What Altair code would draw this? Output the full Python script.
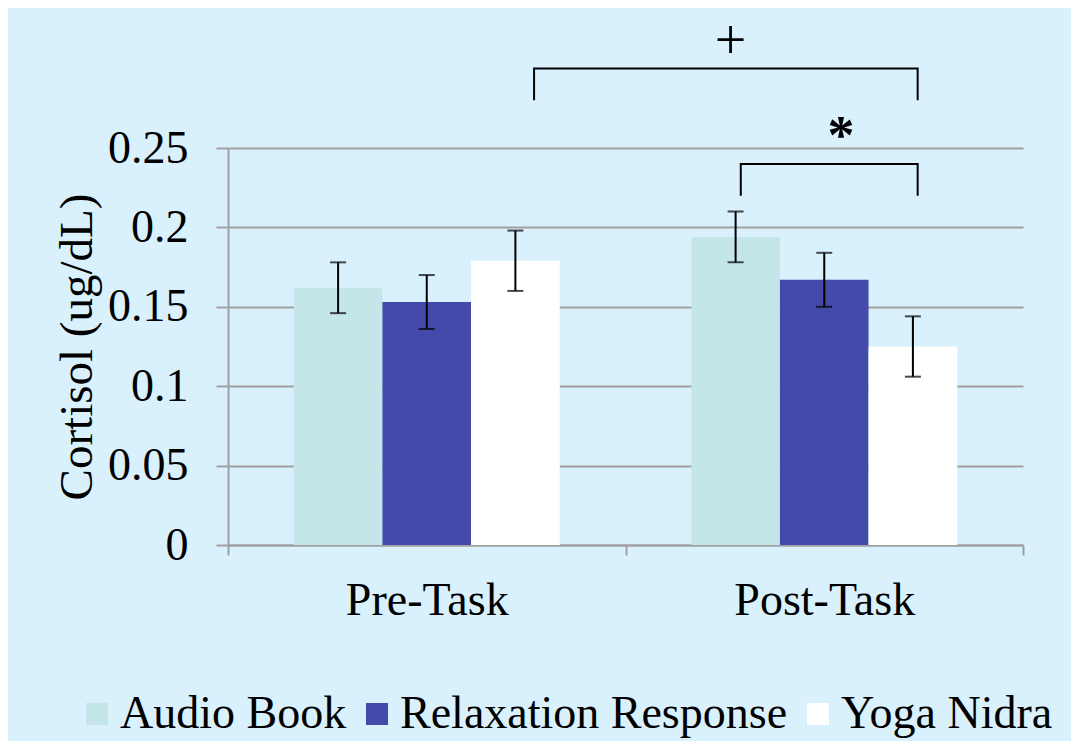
import altair as alt
import pandas as pd

# ---- data ----
categories = ["Pre-Task", "Post-Task"]
series = ["Audio Book", "Relaxation Response", "Yoga Nidra"]
colors = ["#c5e6e8", "#444aa9", "#ffffff"]
pre_means = [0.162, 0.153, 0.179]
post_means = [0.194, 0.167, 0.125]
pre_err = [0.016, 0.017, 0.019]
post_err = [0.016, 0.017, 0.019]
y_ticks = [0, 0.05, 0.1, 0.15, 0.2, 0.25]

# significance brackets (x in category units, y in ug/dL)
bracket_names = ["+", "*"]
bracket_left = [0.77, 1.29]
bracket_right = [1.735, 1.735]
bracket_top = [0.300, 0.240]
bracket_leg = [0.280, 0.220]
symbol_x = [1.264, 1.542]
symbol_y = [0.317, 0.274]

FONT = "Liberation Serif"
GRID = "#a0a0a0"
BAR_W = 0.223

rows = []
for ci, (cat, means, errs) in enumerate(
    [(categories[0], pre_means, pre_err), (categories[1], post_means, post_err)]
):
    for si, s in enumerate(series):
        xc = ci + 0.5 + (si - 1) * BAR_W
        rows.append(dict(cat=cat, series=s, xc=xc, x0=xc - BAR_W / 2, x1=xc + BAR_W / 2,
                         base=0.0, mean=means[si], lo=means[si] - errs[si], hi=means[si] + errs[si]))
df = pd.DataFrame(rows)

brows = []
for i, name in enumerate(bracket_names):
    pts = [(bracket_left[i], bracket_leg[i]), (bracket_left[i], bracket_top[i]),
           (bracket_right[i], bracket_top[i]), (bracket_right[i], bracket_leg[i])]
    for k, (bx, by) in enumerate(pts):
        brows.append(dict(b=name, k=k, bx=bx, by=by))
bdf = pd.DataFrame(brows)

sdf = pd.DataFrame(dict(sym=bracket_names, sx=symbol_x, sy=symbol_y))

xscale = alt.Scale(domain=[0, 2], nice=False, zero=False)
yscale = alt.Scale(domain=[0, 0.25], nice=False)

x_axis = alt.Axis(
    values=[0, 0.5, 1, 1.5, 2],
    labelExpr="datum.value == 0.5 ? 'Pre-Task' : (datum.value == 1.5 ? 'Post-Task' : '')",
    tickOpacity={"condition": {"test": "datum.value % 1 != 0", "value": 0}, "value": 1},
    grid=False, labelOverlap=False, labelFlush=False, labelLimit=500,
    domainColor=GRID, domainWidth=2, tickColor=GRID, tickWidth=2, tickSize=10,
    labelFont=FONT, labelFontSize=46, labelColor="black", labelPadding=23,
    labelBaseline="top", title=None,
)
y_axis = alt.Axis(
    values=y_ticks, format="~g", grid=True, gridColor=GRID, gridWidth=2,
    domainColor=GRID, domainWidth=2, tickColor=GRID, tickWidth=2, tickSize=12,
    labelFont=FONT, labelFontSize=46, labelColor="black", labelPadding=28,
    title="Cortisol (ug/dL)", titleFont=FONT, titleFontSize=47, titleFontWeight="normal",
    titleColor="black", titlePadding=6,
)


def X(field):
    return alt.X(field, scale=xscale, axis=x_axis)


def Y(field):
    return alt.Y(field, scale=yscale, axis=y_axis)


bars = alt.Chart(df).mark_bar(strokeWidth=0).encode(
    x=X("x0:Q"),
    x2="x1:Q",
    y=Y("mean:Q"),
    y2="base:Q",
    color=alt.Color(
        "series:N",
        scale=alt.Scale(domain=series, range=colors),
        legend=alt.Legend(
            orient="none", legendX=-158, legendY=543, direction="horizontal",
            title=None, symbolType="square", symbolSize=484, symbolStrokeWidth=0,
            symbolOpacity=1, symbolOffset=4, labelFont=FONT, labelFontSize=46,
            labelColor="black", labelOffset=0, columnPadding=3, labelLimit=600,
        ),
    ),
)

err_lines = alt.Chart(df).mark_rule(color="black", strokeWidth=2).encode(
    x=X("xc:Q"), y=Y("lo:Q"), y2="hi:Q",
)
cap_hi = alt.Chart(df).mark_tick(color="black", orient="horizontal", size=16, thickness=2).encode(
    x=X("xc:Q"), y=Y("hi:Q"),
)
cap_lo = alt.Chart(df).mark_tick(color="black", orient="horizontal", size=16, thickness=2).encode(
    x=X("xc:Q"), y=Y("lo:Q"),
)

brackets = alt.Chart(bdf).mark_line(color="black", strokeWidth=2).encode(
    x=X("bx:Q"), y=Y("by:Q"), detail="b:N", order="k:Q",
)

plus = alt.Chart(sdf[sdf.sym == "+"]).mark_text(
    font=FONT, fontSize=56, color="black", baseline="middle", align="center"
).encode(x=X("sx:Q"), y=Y("sy:Q"), text="sym:N")

star = alt.Chart(sdf[sdf.sym == "*"]).mark_text(
    font=FONT, fontSize=54, fontWeight="bold", color="black", baseline="top", align="center"
).encode(x=X("sx:Q"), y=Y("sy:Q"), text="sym:N")

chart = alt.layer(bars, err_lines, cap_hi, cap_lo, brackets, plus, star).properties(
    width=795, height=397,
    autosize=alt.AutoSizeParams(type="none"),
    padding={"left": 220, "top": 140, "right": 48, "bottom": 196},
    background="#d9f0fd",
).configure_view(stroke=None)

chart.save("out.html", embed_options={"renderer": "svg", "actions": False})
